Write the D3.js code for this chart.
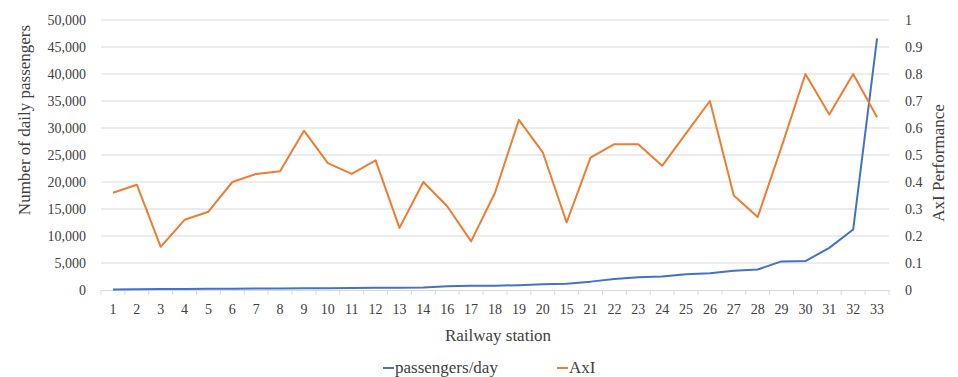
<!DOCTYPE html>
<html><head><meta charset="utf-8">
<script src="https://cdn.jsdelivr.net/npm/d3@7"></script>
<style>body{margin:0;background:#fff}svg{display:block}text{font-family:"Liberation Serif",serif;fill:#404040}</style>
</head><body><svg id="c" width="958" height="377"></svg>
<script>
const stations = ["1","2","3","4","5","6","7","8","9","10","11","12","13","14","16","17","18","19","20","15","21","22","23","24","25","26","27","28","29","30","31","32","33"];
const passengers = [100,150,180,200,220,250,270,300,320,340,360,400,430,480,700,780,800,900,1050,1150,1550,2050,2350,2500,2900,3100,3550,3800,5300,5350,7800,11200,46600];
const axi = [0.36,0.39,0.16,0.26,0.29,0.40,0.43,0.44,0.59,0.47,0.43,0.48,0.23,0.40,0.31,0.18,0.36,0.63,0.51,0.25,0.49,0.54,0.54,0.46,0.58,0.70,0.35,0.27,0.53,0.80,0.65,0.80,0.64];
const leftTicks = [0,5000,10000,15000,20000,25000,30000,35000,40000,45000,50000];
const rightTicks = [0,0.1,0.2,0.3,0.4,0.5,0.6,0.7,0.8,0.9,1];

const svg = d3.select("#c");
const L=101,R=889,T=20,B=290;
const x = d3.scaleBand().domain(stations).range([L,R]);
const yL = d3.scaleLinear().domain([0,50000]).range([B,T]);
const yR = d3.scaleLinear().domain([0,1]).range([B,T]);
const cx = d => x(d)+x.bandwidth()/2;

// gridlines
svg.append("g").selectAll("line").data(leftTicks.slice(1)).join("line")
  .attr("x1",L).attr("x2",R).attr("y1",d=>yL(d)).attr("y2",d=>yL(d))
  .attr("stroke","#d9d9d9").attr("stroke-width",1);

// x axis
const xa = svg.append("g").attr("transform",`translate(0,${B})`)
  .call(d3.axisBottom(x).tickSize(0).tickPadding(14));
xa.select(".domain").attr("stroke","#d9d9d9");
xa.selectAll("text").attr("font-size",14).attr("fill","#404040").attr("font-family","Liberation Serif");
svg.append("g").selectAll("line").data(stations.concat(["__end"])).join("line")
  .attr("x1",(d,i)=>L+i*x.bandwidth()).attr("x2",(d,i)=>L+i*x.bandwidth())
  .attr("y1",B).attr("y2",B+5).attr("stroke","#d9d9d9");

// left axis
const la = svg.append("g").attr("transform",`translate(${L},0)`)
  .call(d3.axisLeft(yL).tickValues(leftTicks).tickSize(0).tickPadding(15).tickFormat(d3.format(",")));
la.select(".domain").remove();
la.selectAll("text").attr("font-size",14).attr("fill","#404040").attr("font-family","Liberation Serif");

// right axis
const ra = svg.append("g").attr("transform",`translate(${R},0)`)
  .call(d3.axisRight(yR).tickValues(rightTicks).tickSize(0).tickPadding(16).tickFormat(d=>d3.format("")(+d.toFixed(1))));
ra.select(".domain").remove();
ra.selectAll("text").attr("font-size",14).attr("fill","#404040").attr("font-family","Liberation Serif");

// lines
svg.append("path").datum(passengers)
  .attr("fill","none").attr("stroke","#4472C4").attr("stroke-width",2).attr("stroke-linejoin","round")
  .attr("d",d3.line().x((d,i)=>cx(stations[i])).y(d=>yL(d)));
svg.append("path").datum(axi)
  .attr("fill","none").attr("stroke","#ED7D31").attr("stroke-width",2).attr("stroke-linejoin","round")
  .attr("d",d3.line().x((d,i)=>cx(stations[i])).y(d=>yR(d)));

// titles
svg.append("text").attr("transform","translate(30,120) rotate(-90)").attr("text-anchor","middle")
  .attr("font-size",17).text("Number of daily passengers");
svg.append("text").attr("transform","translate(944,163) rotate(-90)").attr("text-anchor","middle")
  .attr("font-size",17).text("AxI Performance");
svg.append("text").attr("x",498).attr("y",341).attr("text-anchor","middle")
  .attr("font-size",17).text("Railway station");

// legend
const legend = [{name:"passengers/day",color:"#4472C4",x:383},{name:"AxI",color:"#ED7D31",x:557}];
const lg = svg.append("g").selectAll("g").data(legend).join("g");
lg.append("line").attr("x1",d=>d.x).attr("x2",d=>d.x+11).attr("y1",368).attr("y2",368)
  .attr("stroke",d=>d.color).attr("stroke-width",2);
lg.append("text").attr("x",d=>d.x+12).attr("y",373).attr("font-size",17).text(d=>d.name);
</script></body></html>
